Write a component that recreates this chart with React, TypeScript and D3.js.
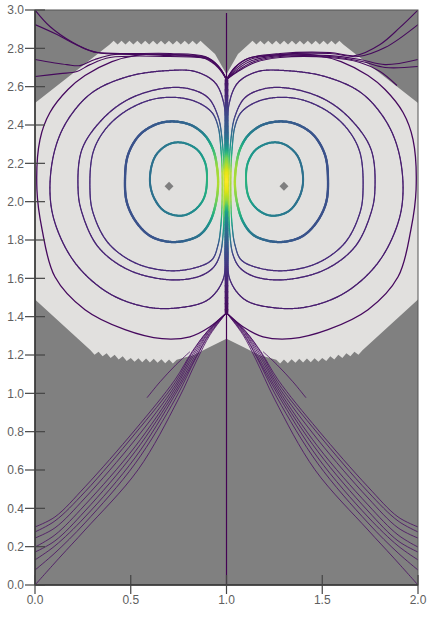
import React, { useEffect, useRef } from 'react';
import * as d3 from 'd3';

type P = [number, number];
type PV = [number, number, number]; // x, y, colour value (0..1 on viridis)

const xTicks = [0, 0.5, 1, 1.5, 2];
const yTicks = [0, 0.2, 0.4, 0.6, 0.8, 1.0, 1.2, 1.4, 1.6, 1.8, 2.0, 2.2, 2.4, 2.6, 2.8, 3.0];

// outline of the light region: [x, y, teeth on the edge to the next vertex]
const lightRegion: [number, number, number][] = [
  [0.0, 1.49, 0], [0.0, 2.515, 0], [0.39, 2.82, 12], [0.885, 2.82, 0], [0.94, 2.77, 0],
  [1.0, 2.665, 0], [1.06, 2.77, 0], [1.115, 2.82, 12], [1.61, 2.82, 0], [2.0, 2.515, 0],
  [2.0, 1.49, 0], [1.71, 1.225, 5], [1.5, 1.185, 6], [1.26, 1.175, 0], [1.17, 1.2, 0],
  [1.09, 1.24, 0], [1.0, 1.285, 0], [0.91, 1.24, 0], [0.83, 1.2, 0], [0.74, 1.175, 6],
  [0.5, 1.185, 5], [0.29, 1.225, 0],
];

const vortexCenters: P[] = [[0.7, 2.08], [1.3, 2.08]];

const innerLoopL: PV[] = [
  [0.6, 2.115, 0.37], [0.627, 2.235, 0.37], [0.695, 2.298, 0.4], [0.768, 2.308, 0.43], [0.846, 2.272, 0.5],
  [0.888, 2.204, 0.58], [0.898, 2.115, 0.64], [0.883, 2.021, 0.6], [0.836, 1.958, 0.5], [0.768, 1.927, 0.43],
  [0.679, 1.948, 0.4], [0.621, 2.021, 0.37],
];
const innerLoopR: PV[] = [
  [1.4, 2.115, 0.37], [1.373, 2.235, 0.37], [1.305, 2.298, 0.4], [1.232, 2.308, 0.43], [1.154, 2.272, 0.5],
  [1.112, 2.204, 0.58], [1.102, 2.115, 0.64], [1.117, 2.021, 0.6], [1.164, 1.958, 0.5], [1.232, 1.927, 0.43],
  [1.321, 1.948, 0.4], [1.379, 2.021, 0.37],
];
const secondLoopL: PV[] = [
  [0.47, 2.115, 0.25], [0.486, 2.245, 0.25], [0.548, 2.35, 0.26], [0.642, 2.407, 0.28], [0.731, 2.418, 0.3],
  [0.82, 2.397, 0.34], [0.888, 2.345, 0.45], [0.93, 2.272, 0.66], [0.95, 2.183, 0.85], [0.956, 2.089, 0.88],
  [0.945, 1.995, 0.78], [0.914, 1.896, 0.55], [0.862, 1.828, 0.4], [0.783, 1.796, 0.32], [0.695, 1.791, 0.28],
  [0.6, 1.822, 0.26], [0.527, 1.896, 0.25], [0.48, 1.995, 0.25],
];
const secondLoopR: PV[] = [
  [1.53, 2.115, 0.25], [1.514, 2.245, 0.25], [1.452, 2.35, 0.26], [1.358, 2.407, 0.28], [1.269, 2.418, 0.3],
  [1.18, 2.397, 0.34], [1.112, 2.345, 0.45], [1.07, 2.272, 0.66], [1.05, 2.183, 0.85], [1.044, 2.089, 0.88],
  [1.055, 1.995, 0.78], [1.086, 1.896, 0.55], [1.138, 1.828, 0.4], [1.217, 1.796, 0.32], [1.305, 1.791, 0.28],
  [1.4, 1.822, 0.26], [1.473, 1.896, 0.25], [1.52, 1.995, 0.25],
];
const loopAL: PV[] = [
  [0.287, 2.063, 0.12], [0.303, 2.256, 0.12], [0.366, 2.376, 0.12], [0.47, 2.47, 0.12], [0.611, 2.533, 0.12],
  [0.747, 2.543, 0.12], [0.851, 2.517, 0.12], [0.924, 2.465, 0.16], [0.956, 2.392, 0.28], [0.971, 2.272, 0.55],
  [0.977, 2.151, 0.88], [0.977, 2.01, 0.84], [0.971, 1.88, 0.55], [0.956, 1.775, 0.28], [0.924, 1.697, 0.16],
  [0.836, 1.655, 0.12], [0.695, 1.64, 0.12], [0.522, 1.681, 0.12], [0.381, 1.786, 0.12], [0.303, 1.943, 0.12],
];
const loopAR: PV[] = [
  [1.713, 2.063, 0.12], [1.697, 2.256, 0.12], [1.634, 2.376, 0.12], [1.53, 2.47, 0.12], [1.389, 2.533, 0.12],
  [1.253, 2.543, 0.12], [1.149, 2.517, 0.12], [1.076, 2.465, 0.16], [1.044, 2.392, 0.28], [1.029, 2.272, 0.55],
  [1.023, 2.151, 0.88], [1.023, 2.01, 0.84], [1.029, 1.88, 0.55], [1.044, 1.775, 0.28], [1.076, 1.697, 0.16],
  [1.164, 1.655, 0.12], [1.305, 1.64, 0.12], [1.478, 1.681, 0.12], [1.619, 1.786, 0.12], [1.697, 1.943, 0.12],
];
const loopBL: PV[] = [
  [0.225, 2.063, 0.1], [0.245, 2.272, 0.1], [0.35, 2.428, 0.1], [0.486, 2.533, 0.1], [0.663, 2.59, 0.1],
  [0.799, 2.59, 0.1], [0.903, 2.543, 0.1], [0.956, 2.444, 0.18], [0.977, 2.324, 0.42], [0.987, 2.151, 0.92],
  [0.987, 1.984, 0.88], [0.982, 1.828, 0.48], [0.966, 1.723, 0.2], [0.93, 1.655, 0.12], [0.851, 1.608, 0.1],
  [0.695, 1.593, 0.1], [0.486, 1.645, 0.1], [0.329, 1.765, 0.1], [0.245, 1.943, 0.1],
];
const loopBR: PV[] = [
  [1.775, 2.063, 0.1], [1.755, 2.272, 0.1], [1.65, 2.428, 0.1], [1.514, 2.533, 0.1], [1.337, 2.59, 0.1],
  [1.201, 2.59, 0.1], [1.097, 2.543, 0.1], [1.044, 2.444, 0.18], [1.023, 2.324, 0.42], [1.013, 2.151, 0.92],
  [1.013, 1.984, 0.88], [1.018, 1.828, 0.48], [1.034, 1.723, 0.2], [1.07, 1.655, 0.12], [1.149, 1.608, 0.1],
  [1.305, 1.593, 0.1], [1.514, 1.645, 0.1], [1.671, 1.765, 0.1], [1.755, 1.943, 0.1],
];
const loopCL: PV[] = [
  [0.078, 2.063, 0.08], [0.104, 2.272, 0.08], [0.172, 2.428, 0.08], [0.298, 2.569, 0.08], [0.486, 2.653, 0.08],
  [0.695, 2.684, 0.08], [0.836, 2.679, 0.08], [0.94, 2.621, 0.08], [0.987, 2.507, 0.15], [0.992, 2.324, 0.42],
  [0.992, 2.151, 0.95], [0.992, 1.958, 0.85], [0.992, 1.749, 0.3], [0.982, 1.593, 0.12], [0.903, 1.488, 0.08],
  [0.747, 1.446, 0.08], [0.574, 1.452, 0.08], [0.381, 1.525, 0.08], [0.209, 1.681, 0.08], [0.104, 1.89, 0.08],
];
const loopCR: PV[] = [
  [1.922, 2.063, 0.08], [1.896, 2.272, 0.08], [1.828, 2.428, 0.08], [1.702, 2.569, 0.08], [1.514, 2.653, 0.08],
  [1.305, 2.684, 0.08], [1.164, 2.679, 0.08], [1.06, 2.621, 0.08], [1.013, 2.507, 0.15], [1.008, 2.324, 0.42],
  [1.008, 2.151, 0.95], [1.008, 1.958, 0.85], [1.008, 1.749, 0.3], [1.018, 1.593, 0.12], [1.097, 1.488, 0.08],
  [1.253, 1.446, 0.08], [1.426, 1.452, 0.08], [1.619, 1.525, 0.08], [1.791, 1.681, 0.08], [1.896, 1.89, 0.08],
];
const centerBundle: PV[] = [
  [1.0, 2.637, 0.05], [1.0, 2.55, 0.1], [1.0, 2.45, 0.22], [1.0, 2.35, 0.32], [1.0, 2.28, 0.5],
  [1.0, 2.22, 0.8], [1.0, 2.15, 0.96], [1.0, 2.1, 1.0], [1.0, 2.05, 0.96], [1.0, 2.0, 0.85],
  [1.0, 1.93, 0.55], [1.0, 1.85, 0.36], [1.0, 1.75, 0.25], [1.0, 1.65, 0.15], [1.0, 1.55, 0.08], [1.0, 1.42, 0.03],
];

// outermost streamlines, from the top node round to the bottom node
const outerLines: P[][] = [
  [[1.0, 2.637], [0.956, 2.7], [0.888, 2.747], [0.705, 2.768], [0.522, 2.762], [0.402, 2.731], [0.261, 2.658],
   [0.172, 2.585], [0.078, 2.465], [0.026, 2.324], [0.01, 2.063], [0.037, 1.854], [0.104, 1.608], [0.261, 1.436],
   [0.47, 1.332], [0.663, 1.285], [0.809, 1.295], [0.914, 1.347], [1.0, 1.42]],
  [[1.0, 2.637], [1.044, 2.7], [1.112, 2.747], [1.295, 2.768], [1.478, 2.762], [1.598, 2.731], [1.739, 2.658],
   [1.828, 2.585], [1.922, 2.465], [1.974, 2.324], [1.99, 2.063], [1.963, 1.854], [1.896, 1.608], [1.739, 1.436],
   [1.53, 1.332], [1.337, 1.285], [1.191, 1.295], [1.086, 1.347], [1.0, 1.42]],
];

const topLines: P[][] = [
  [[0, 3.0], [0.078, 2.914], [0.198, 2.83], [0.303, 2.783], [0.444, 2.773], [0.705, 2.773], [0.888, 2.757], [0.956, 2.71], [1.0, 2.637]],
  [[0, 2.924], [0.115, 2.872], [0.235, 2.809], [0.324, 2.778], [0.496, 2.768], [0.731, 2.768], [0.898, 2.752], [0.961, 2.7], [1.0, 2.637]],
  [[0, 2.742], [0.167, 2.715], [0.235, 2.71], [0.313, 2.742], [0.418, 2.768], [0.705, 2.762], [0.903, 2.747], [0.966, 2.694], [1.0, 2.637]],
  [[0, 2.653], [0.131, 2.668], [0.219, 2.679], [0.287, 2.715], [0.392, 2.752], [0.705, 2.757], [0.909, 2.742], [0.971, 2.689], [1.0, 2.637]],
  [[1.0, 2.637], [1.044, 2.7], [1.112, 2.747], [1.279, 2.773], [1.54, 2.778], [1.671, 2.762], [1.802, 2.82], [1.906, 2.909], [2.0, 3.0]],
  [[1.0, 2.637], [1.049, 2.694], [1.123, 2.742], [1.279, 2.768], [1.54, 2.773], [1.687, 2.757], [1.828, 2.804], [2.0, 2.924]],
  [[1.0, 2.637], [1.055, 2.689], [1.133, 2.736], [1.279, 2.762], [1.54, 2.762], [1.697, 2.742], [1.828, 2.715], [2.0, 2.742]],
  [[1.0, 2.637], [1.06, 2.684], [1.144, 2.731], [1.279, 2.757], [1.54, 2.757], [1.708, 2.731], [1.828, 2.7], [2.0, 2.705]],
  [[1.0, 2.637], [1.06, 2.679], [1.149, 2.726], [1.279, 2.752], [1.54, 2.752], [1.697, 2.726], [1.802, 2.679], [1.89, 2.606]],
];

const fanLines: P[][] = [
  [[0, 0.303], [0.104, 0.355], [0.261, 0.512], [0.522, 0.809], [0.731, 1.071], [0.82, 1.217], [0.898, 1.321], [1.0, 1.42]],
  [[0, 0.277], [0.104, 0.334], [0.261, 0.486], [0.522, 0.789], [0.731, 1.055], [0.82, 1.211], [0.898, 1.321], [1.0, 1.42]],
  [[0, 0.245], [0.104, 0.298], [0.261, 0.454], [0.522, 0.757], [0.731, 1.039], [0.825, 1.206], [0.898, 1.316], [1.0, 1.42]],
  [[0, 0.198], [0.104, 0.261], [0.261, 0.418], [0.522, 0.721], [0.731, 1.024], [0.83, 1.201], [0.903, 1.316], [1.0, 1.42]],
  [[0, 0.172], [0.104, 0.23], [0.261, 0.386], [0.522, 0.695], [0.731, 1.008], [0.836, 1.196], [0.903, 1.311], [1.0, 1.42]],
  [[0, 0.131], [0.104, 0.204], [0.261, 0.355], [0.522, 0.663], [0.731, 0.992], [0.841, 1.191], [0.909, 1.311], [1.0, 1.42]],
  [[0, 0.078], [0.104, 0.167], [0.261, 0.324], [0.522, 0.632], [0.736, 0.977], [0.841, 1.185], [0.909, 1.305], [1.0, 1.42]],
  [[0, 0.0], [0.131, 0.146], [0.261, 0.287], [0.538, 0.601], [0.747, 0.966], [0.846, 1.175], [0.914, 1.305], [1.0, 1.42]],
  [[0.809, 1.217], [0.736, 1.149], [0.653, 1.06], [0.585, 0.977]],
  [[2, 0.303], [1.896, 0.355], [1.739, 0.512], [1.478, 0.809], [1.269, 1.071], [1.18, 1.217], [1.102, 1.321], [1.0, 1.42]],
  [[2, 0.277], [1.896, 0.334], [1.739, 0.486], [1.478, 0.789], [1.269, 1.055], [1.18, 1.211], [1.102, 1.321], [1.0, 1.42]],
  [[2, 0.245], [1.896, 0.298], [1.739, 0.454], [1.478, 0.757], [1.269, 1.039], [1.175, 1.206], [1.102, 1.316], [1.0, 1.42]],
  [[2, 0.198], [1.896, 0.261], [1.739, 0.418], [1.478, 0.721], [1.269, 1.024], [1.17, 1.201], [1.097, 1.316], [1.0, 1.42]],
  [[2, 0.172], [1.896, 0.23], [1.739, 0.386], [1.478, 0.695], [1.269, 1.008], [1.164, 1.196], [1.097, 1.311], [1.0, 1.42]],
  [[2, 0.131], [1.896, 0.204], [1.739, 0.355], [1.478, 0.663], [1.269, 0.992], [1.159, 1.191], [1.091, 1.311], [1.0, 1.42]],
  [[2, 0.078], [1.896, 0.167], [1.739, 0.324], [1.478, 0.632], [1.264, 0.977], [1.159, 1.185], [1.091, 1.305], [1.0, 1.42]],
  [[2, 0.0], [1.869, 0.146], [1.739, 0.287], [1.462, 0.601], [1.253, 0.966], [1.154, 1.175], [1.086, 1.305], [1.0, 1.42]],
  [[1.191, 1.217], [1.264, 1.149], [1.347, 1.06], [1.415, 0.977]],
];

const midLine: P[] = [[1, 0], [1, 2.985]];

const W = 440, H = 620;
const TOOTH = 0.02;

export default function App() {
  const ref = useRef<SVGSVGElement>(null);

  useEffect(() => {
    const svg = d3.select(ref.current);
    svg.selectAll('*').remove();

    const x = d3.scaleLinear().domain([0, 2]).range([35, 418]);
    const y = d3.scaleLinear().domain([0, 3]).range([585, 10]);

    svg.append('clipPath').attr('id', 'plot')
      .append('rect').attr('x', x(0)).attr('y', y(3)).attr('width', x(2) - x(0)).attr('height', y(0) - y(3));

    svg.append('rect').attr('x', x(0)).attr('y', y(3)).attr('width', x(2) - x(0)).attr('height', y(0) - y(3))
      .attr('fill', '#808080');

    // light region with its saw-tooth edges
    const outline: P[] = [];
    lightRegion.forEach((v, i) => {
      const nx = lightRegion[(i + 1) % lightRegion.length];
      outline.push([v[0], v[1]]);
      const n = v[2];
      const dir = v[1] > 2 ? 1 : -1;
      for (let k = 0; k < n; k++) {
        const t = (k + 0.5) / n;
        outline.push([v[0] + (nx[0] - v[0]) * t, v[1] + (nx[1] - v[1]) * t + dir * TOOTH]);
        if (k < n - 1) {
          const t2 = (k + 1) / n;
          outline.push([v[0] + (nx[0] - v[0]) * t2, v[1] + (nx[1] - v[1]) * t2]);
        }
      }
    });
    const lin = d3.line<P>().x(d => x(d[0])).y(d => y(d[1]));
    svg.append('path').attr('d', lin(outline) + 'Z').attr('fill', '#e1e0de');

    const g = svg.append('g').attr('clip-path', 'url(#plot)');
    const smooth = d3.line<P>().x(d => x(d[0])).y(d => y(d[1])).curve(d3.curveCatmullRom);

    g.append('path').attr('d', lin(midLine)).attr('stroke', '#440154').attr('stroke-width', 1.2).attr('fill', 'none');

    fanLines.forEach(l => {
      g.append('path').attr('d', smooth(l)).attr('fill', 'none')
        .attr('stroke', '#4a0f63').attr('stroke-width', 0.9).attr('stroke-opacity', 0.9);
    });
    topLines.forEach(l => {
      g.append('path').attr('d', smooth(l)).attr('fill', 'none')
        .attr('stroke', '#45095c').attr('stroke-width', 1.1);
    });
    outerLines.forEach(l => {
      g.append('path').attr('d', smooth(l)).attr('fill', 'none')
        .attr('stroke', '#46095e').attr('stroke-width', 1.3);
    });

    // draws a streamline whose colour follows the values stored with its points
    const colored = (pts: PV[], closed: boolean, w: number) => {
      const gen = d3.line<PV>().x(d => x(d[0])).y(d => y(d[1]))
        .curve(closed ? d3.curveCatmullRomClosed : d3.curveCatmullRom);
      const tmp = g.append('path').attr('d', gen(pts));
      const node = tmp.node() as SVGPathElement;
      const L = node.getTotalLength();
      const n = Math.max(2, Math.ceil(L / 1.2));
      const s = d3.range(n + 1).map(i => node.getPointAtLength((L * i) / n));
      tmp.remove();
      let stops = pts.map(p => {
        const px = x(p[0]), py = y(p[1]);
        let best = 0, bd = Infinity;
        for (let k = 0; k < n; k++) {
          const dd = (s[k].x - px) ** 2 + (s[k].y - py) ** 2;
          if (dd < bd) { bd = dd; best = k; }
        }
        return { pos: best, v: p[2] };
      });
      stops.sort((a, b) => a.pos - b.pos);
      if (closed) {
        const first = stops[0], last = stops[stops.length - 1];
        stops = [{ pos: last.pos - n, v: last.v }, ...stops, { pos: first.pos + n, v: first.v }];
      }
      const vs = d3.scaleLinear().domain(stops.map(d => d.pos)).range(stops.map(d => d.v)).clamp(true);
      for (let k = 0; k < n; k++) {
        g.append('line')
          .attr('x1', s[k].x).attr('y1', s[k].y).attr('x2', s[k + 1].x).attr('y2', s[k + 1].y)
          .attr('stroke', d3.interpolateViridis(vs(k + 0.5)))
          .attr('stroke-width', w).attr('stroke-linecap', 'round');
      }
    };

    colored(loopCL, true, 1.2);
    colored(loopCR, true, 1.2);
    colored(loopBL, true, 1.2);
    colored(loopBR, true, 1.2);
    colored(loopAL, true, 1.2);
    colored(loopAR, true, 1.2);
    colored(centerBundle, false, 3.5);
    colored(secondLoopL, true, 2.3);
    colored(secondLoopR, true, 2.3);
    colored(innerLoopL, true, 2);
    colored(innerLoopR, true, 2);

    const diamond = d3.symbol().type(d3.symbolSquare).size(40);
    vortexCenters.forEach(c => {
      svg.append('path').attr('d', diamond())
        .attr('transform', `translate(${x(c[0])},${y(c[1])}) rotate(45)`)
        .attr('fill', '#7f7f7f');
    });

    // frame and axes
    svg.append('rect').attr('x', x(0)).attr('y', y(3)).attr('width', x(2) - x(0)).attr('height', y(0) - y(3))
      .attr('fill', 'none').attr('stroke', '#555').attr('stroke-width', 1);
    svg.append('line').attr('x1', x(0)).attr('x2', x(0)).attr('y1', y(3)).attr('y2', y(0))
      .attr('stroke', '#333').attr('stroke-width', 1.5);
    svg.append('line').attr('x1', x(0)).attr('x2', x(2)).attr('y1', y(0)).attr('y2', y(0))
      .attr('stroke', '#333').attr('stroke-width', 1.5);

    const font = '"Liberation Sans", Arial, sans-serif';
    yTicks.forEach(t => {
      svg.append('line').attr('x1', x(0) - 10).attr('x2', x(0) + 10).attr('y1', y(t)).attr('y2', y(t))
        .attr('stroke', '#444').attr('stroke-width', 1.2);
      svg.append('text').attr('x', x(0) - 11).attr('y', y(t) + 4.3).attr('text-anchor', 'end')
        .attr('font-family', font).attr('font-size', 12).attr('fill', '#5e5e5e').text(t.toFixed(1));
    });
    xTicks.forEach(t => {
      svg.append('line').attr('x1', x(t)).attr('x2', x(t)).attr('y1', y(0) - 10).attr('y2', y(0) + 9)
        .attr('stroke', '#444').attr('stroke-width', 1.2);
      svg.append('text').attr('x', x(t)).attr('y', y(0) + 19).attr('text-anchor', 'middle')
        .attr('font-family', font).attr('font-size', 12).attr('fill', '#5e5e5e').text(t.toFixed(1));
    });
  }, []);

  return (
    <svg ref={ref} width={W} height={H}
      style={{ position: 'absolute', left: 0, top: 0, background: '#fff' }} />
  );
}
